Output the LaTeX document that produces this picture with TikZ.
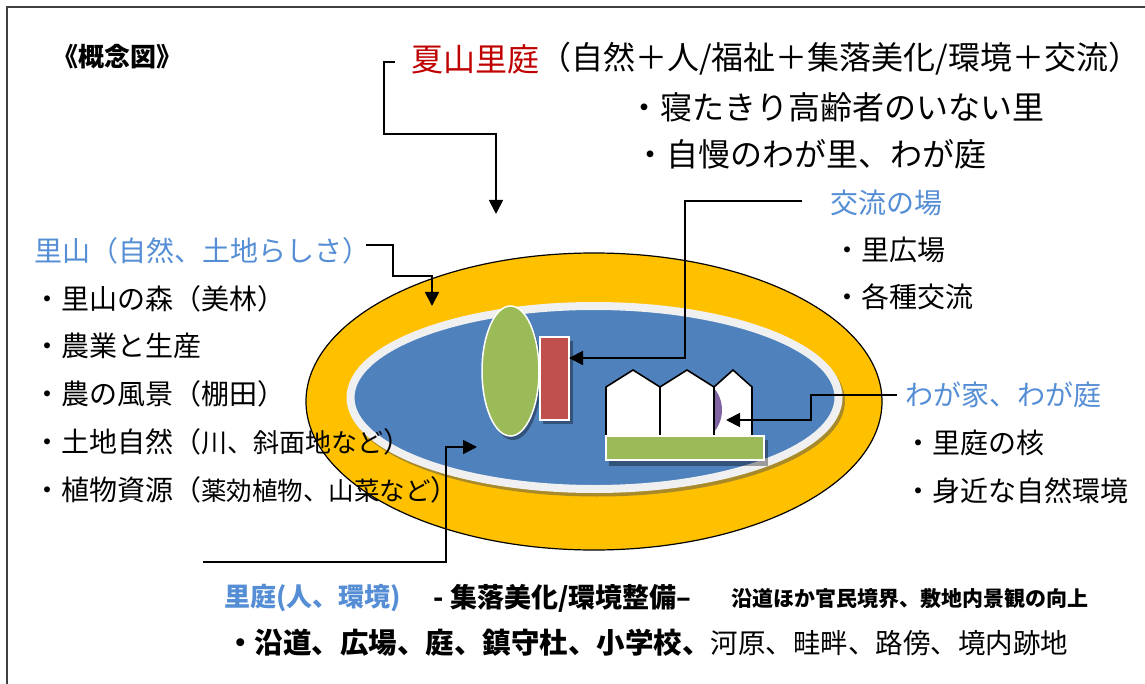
\documentclass[tikz,border=0pt]{standalone}
\usepackage{fontspec}
\setmainfont{Noto Sans CJK JP}
\usetikzlibrary{arrows.meta}
\definecolor{ylw}{HTML}{FFC000}
\definecolor{bluefill}{HTML}{4F81BD}
\definecolor{ringc}{HTML}{F0F0F0}
\definecolor{grn}{HTML}{9BBB59}
\definecolor{redf}{HTML}{C0504D}
\definecolor{purp}{HTML}{8064A2}
\definecolor{bluetxt}{HTML}{558ED5}
\definecolor{redtxt}{HTML}{C00000}
\definecolor{ringshadow}{HTML}{A88A2A}
\begin{document}
\begin{tikzpicture}[x=1pt,y=-1pt,
  lbl/.style={anchor=west, inner sep=0pt, outer sep=0pt},
  fa/.style={font=\fontsize{32}{36}\selectfont},
  fb/.style={font=\fontsize{28}{32}\selectfont},
  fc/.style={font=\bfseries\fontsize{26}{30}\selectfont},
  conn/.style={line width=1.8pt, -{Triangle[length=14pt,width=14pt]}},
  shade/.style={fill=black, opacity=0.35, draw=none},
  house/.style={fill=white, draw=black, line width=1.6pt, line join=miter}]
\useasboundingbox (0,0) rectangle (1145,684);
\fill[white] (0,0) rectangle (1145,684);
\draw[line width=1.4pt, black!75] (7,7) rectangle (1170,710);

% ---- central ellipses ----
\draw[fill=ylw, draw=black, line width=1.2pt] (594,401.5) ellipse [x radius=288, y radius=148.5];
\fill[ringshadow] (597,401) ellipse [x radius=248, y radius=95.5];
\draw[fill=bluefill, draw=ringc, line width=8pt] (594.5,397.5) ellipse [x radius=244, y radius=91.5];

% green vertical ellipse
\fill[shade] (513,375) ellipse [x radius=28.5, y radius=65];
\draw[fill=grn, draw=white, line width=1.5pt] (510.5,371) ellipse [x radius=28.5, y radius=65];
% red rectangle
\fill[shade] (543,341) rectangle (573,424);
\draw[fill=redf, draw=white, line width=1.5pt] (540,337) rectangle (569,420);

% houses
\draw[house] (714,440) -- (714,387) -- (733,370) -- (752,387) -- (752,440) -- cycle;
\fill[purp] (690,410) ellipse [x radius=32, y radius=33];
\draw[house] (606,440) -- (606,387) -- (633,370) -- (660,387) -- (660,440) -- cycle;
\draw[house] (660,440) -- (660,387) -- (687,370) -- (714,387) -- (714,440) -- cycle;
% green bar
\fill[shade] (609,440) rectangle (768,466);
\draw[fill=grn, draw=white, line width=1.5pt] (606,436) rectangle (764,460);

% ---- texts ----
\node[lbl, font=\bfseries\fontsize{26}{30}\selectfont] (gainen) at (52,57) {《概念図》};

\node[lbl, fa, text=redtxt] (natsu) at (411,59) {夏山里庭};
\node[lbl, fa] (natsu2) at (natsu.east) {（自然＋人/福祉＋集落美化/環境＋交流）};
\node[lbl, fa] (t1) at (628,107) {・寝たきり高齢者のいない里};
\node[lbl, fa] (t2) at (634,154) {・自慢のわが里、わが庭};

\node[lbl, fb, text=bluetxt] (koryu) at (830,203) {交流の場};
\node[lbl, fb] (k1) at (833,250) {・里広場};
\node[lbl, fb] (k2) at (833,297) {・各種交流};

\node[lbl, fb, text=bluetxt] (satoyama) at (34,251) {里山（自然、土地らしさ）};
\node[lbl, fb] (s1) at (33,298.5) {・里山の森（美林）};
\node[lbl, fb] (s2) at (33,346) {・農業と生産};
\node[lbl, fb] (s3) at (33,394) {・農の風景（棚田）};
\node[lbl, fb] (s4) at (33,442) {・土地自然（{\fontsize{26}{28}\selectfont 川、斜面地など}）};
\node[lbl, fb] (s5) at (33,490) {・植物資源（{\fontsize{25.5}{28}\selectfont 薬効植物、山菜など}）};

\node[lbl, fb, text=bluetxt] (wagaya) at (905,395) {わが家、わが庭};
\node[lbl, fb] (w1) at (904,443) {・里庭の核};
\node[lbl, fb] (w2) at (904,491) {・身近な自然環境};

\node[lbl, fc, text=bluetxt] (satoniwa) at (224,598) {里庭(人、環境)};
\node[lbl, font=\bfseries\fontsize{27}{30}\selectfont] (seibi) at (433,598) {-\hspace{7pt}集落美化/環境整備–};
\node[lbl, font=\bfseries\fontsize{21}{24}\selectfont] (kojo) at (731,598) {沿道ほか官民境界、敷地内景観の向上};
\node[lbl, font=\fontsize{28.5}{32}\selectfont] (places) at (226,643) {{\bfseries ・沿道、広場、庭、鎮守杜、小学校、}{\fontsize{27.5}{32}\selectfont 河原、畦畔、路傍、境内跡地}};

% ---- connectors ----
\coordinate (c1s) at (395,62);
\coordinate (c1e) at (496,214);
\draw[conn] (c1s) -- (384,62) -- (384,134) -- (496,134) -- (c1e);

\coordinate (c2s) at (366,245);
\coordinate (c2e) at (432,306);
\draw[conn] (c2s) -- (393,245) -- (393,276) -- (432,276) -- (c2e);

\coordinate (c3s) at (802,201);
\coordinate (c3e) at (569,358);
\draw[conn] (c3s) -- (685,201) -- (685,358) -- (c3e);

\coordinate (c4s) at (897,395);
\coordinate (c4e) at (726,420);
\draw[conn] (c4s) -- (811,395) -- (811,420) -- (c4e);

\coordinate (c5s) at (203,562);
\coordinate (c5e) at (477,447);
\draw[conn] (c5s) -- (446,562) -- (446,447) -- (c5e);
\end{tikzpicture}
\end{document}
